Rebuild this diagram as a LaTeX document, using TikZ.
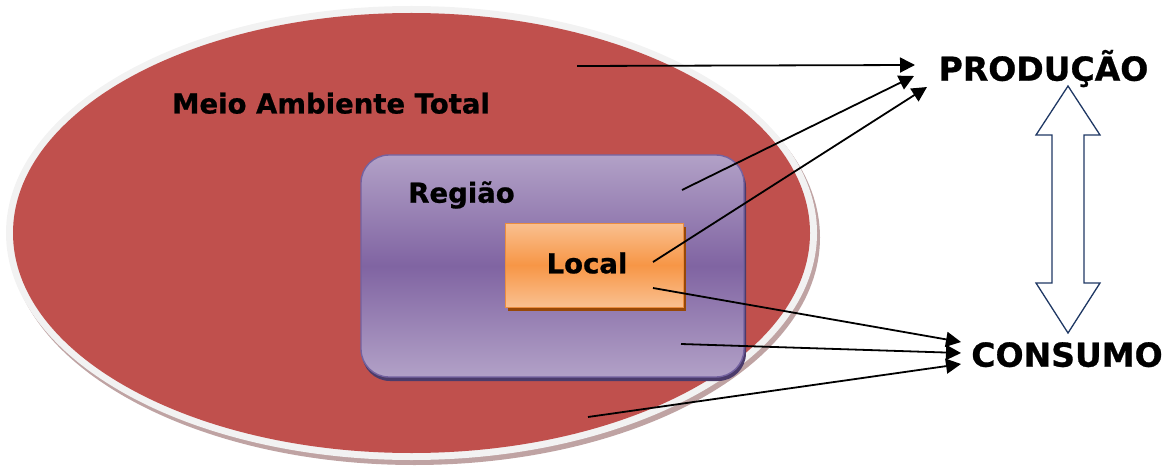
\documentclass[tikz,border=0pt]{standalone}
\usepackage{fontspec}
\setmainfont{DejaVu Sans}[BoldFeatures={FakeBold=0.8}]
\usetikzlibrary{arrows.meta}
\definecolor{envred}{HTML}{C0504D}
\definecolor{ringgray}{HTML}{F2F2F2}
\definecolor{envshadow}{HTML}{BFA3A3}
\definecolor{reglight}{HTML}{B2A1C7}
\definecolor{regdark}{HTML}{8064A2}
\definecolor{regborder}{HTML}{7462A0}
\definecolor{regshadow}{HTML}{4B3B6B}
\definecolor{loclight}{HTML}{FAC090}
\definecolor{locdark}{HTML}{F79646}
\definecolor{locborder}{HTML}{EB8D3F}
\definecolor{locshadow}{HTML}{984807}
\definecolor{navyline}{HTML}{1F3864}
\begin{document}
\begin{tikzpicture}[x=1pt,y=-1pt,
  lbl/.style={font=\bfseries\fontsize{27.5}{33}\selectfont, inner sep=0pt, anchor=base},
  biglbl/.style={font=\bfseries\fontsize{33}{40}\selectfont, inner sep=0pt, anchor=base},
  link/.style={line width=1.8pt, -{Triangle[length=15pt,width=15pt]}},
  regionbox/.style={draw=regborder, line width=1.4pt, rounded corners=28pt,
    top color=reglight, bottom color=reglight, middle color=regdark,
    minimum width=383pt, minimum height=222pt, inner sep=0pt},
  localbox/.style={draw=locborder, line width=1pt,
    top color=loclight, bottom color=loclight, middle color=locdark,
    minimum width=178pt, minimum height=84pt, inner sep=0pt},
  blockarrow/.style={draw=navyline, line width=1.3pt, fill=white, line join=miter}
]
\useasboundingbox (0,0) rectangle (1174,473);
% total environment ellipse
\fill[envshadow] (414.5,237.5) ellipse [x radius=405.5, y radius=227.5];
\fill[ringgray] (411.5,233) ellipse [x radius=405.5, y radius=227];
\fill[envred] (411.5,233) ellipse [x radius=398.5, y radius=220];
% region box
\fill[regshadow, rounded corners=28pt] (362,159) rectangle (746,381);
\node[regionbox] (region) at (552.5,266) {};
% local box
\fill[locshadow] (508,227) rectangle (686,311);
\node[localbox] (localbox) at (594,265) {};
% labels
\node[lbl] (meio) at (331,113.5) {Meio Ambiente Total};
\node[lbl] (regiao) at (461.5,202.7) {Região};
\node[lbl] (local) at (587,273.3) {Local};
\node[biglbl] (prod) at (1043.5,80.7) {PRODUÇÃO};
\node[biglbl] (cons) at (1067,366.7) {CONSUMO};
% arrow ends
\coordinate (s1) at (577,66);
\coordinate (s2) at (682,190);
\coordinate (s3) at (653,262);
\coordinate (s4) at (653,288);
\coordinate (s5) at (681,344);
\coordinate (s6) at (588,417);
\coordinate (p1) at (915,65);
\coordinate (p2) at (914,76);
\coordinate (p3) at (927,87);
\coordinate (c1) at (961,342);
\coordinate (c2) at (961,353);
\coordinate (c3) at (961,364);
\draw[link] (s1) -- (p1);
\draw[link] (s2) -- (p2);
\draw[link] (s3) -- (p3);
\draw[link] (s4) -- (c1);
\draw[link] (s5) -- (c2);
\draw[link] (s6) -- (c3);
% double block arrow between PRODUCAO and CONSUMO
\draw[blockarrow] (1068,86) -- (1100,135) -- (1084,135) -- (1084,283) -- (1100,283)
  -- (1068,333) -- (1036,283) -- (1052,283) -- (1052,135) -- (1036,135) -- cycle;
\end{tikzpicture}
\end{document}
